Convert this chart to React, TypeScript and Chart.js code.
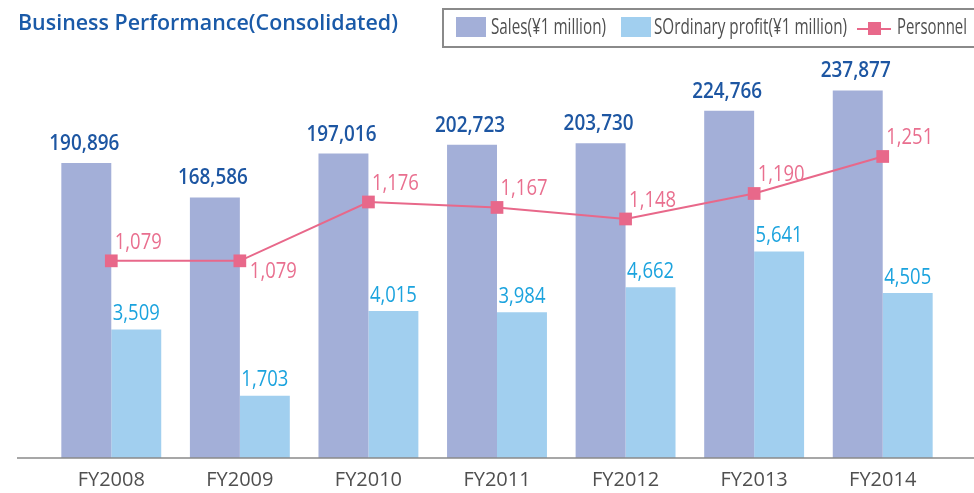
import React, { useEffect, useRef } from 'react';
import { Chart, registerables } from 'chart.js';

Chart.register(...registerables);

// ---- data ----
const categories = ['FY2008', 'FY2009', 'FY2010', 'FY2011', 'FY2012', 'FY2013', 'FY2014'];
const sales = [190896, 168586, 197016, 202723, 203730, 224766, 237877];
const profit = [3509, 1703, 4015, 3984, 4662, 5641, 4505];
const personnel = [1079, 1079, 1176, 1167, 1148, 1190, 1251];

const seriesNames = ['Sales(¥1 million)', 'SOrdinary profit(¥1 million)', 'Personnel'];
const chartTitle = 'Business Performance(Consolidated)';

// label placement for the personnel line (styling, not data)
const personnelLabelBelow = [false, true, false, false, false, false, false];

// ---- styles ----
const FONT = '"Open Sans", "Noto Sans", sans-serif';
const SALES_COLOR = '#A3AFD8';
const PROFIT_COLOR = '#A1CFEF';
const PERSONNEL_COLOR = '#E8688A';
const SALES_LABEL_COLOR = '#1D56A2';
const PROFIT_LABEL_COLOR = '#1BA3DE';
const PERSONNEL_LABEL_COLOR = '#E96F8F';
const TITLE_COLOR = '#1A5AA8';
const TEXT_GRAY = '#4f4f4f';
const AXIS_COLOR = '#8a8a8a';

const fmt = (v: number) => v.toLocaleString('en-US');

function textWidth(text: string, font: string): number {
  const c = document.createElement('canvas').getContext('2d');
  if (!c) return 1;
  c.font = font;
  return c.measureText(text).width;
}

function drawScaled(ctx: CanvasRenderingContext2D, text: string, x: number, y: number, align: CanvasTextAlign, sx: number) {
  ctx.save();
  ctx.translate(x, y);
  ctx.scale(sx, 1);
  ctx.textAlign = align;
  ctx.textBaseline = 'alphabetic';
  ctx.fillText(text, 0, 0);
  ctx.restore();
}

const labelPlugin = {
  id: 'valueLabels',
  afterDatasetsDraw(chart: any) {
    const ctx: CanvasRenderingContext2D = chart.ctx;
    const area = chart.chartArea;
    ctx.save();
    // baseline axis line
    ctx.strokeStyle = AXIS_COLOR;
    ctx.lineWidth = 1.5;
    ctx.beginPath();
    ctx.moveTo(area.left - 30, area.bottom);
    ctx.lineTo(chart.width, area.bottom);
    ctx.stroke();

    // sales labels
    const bigFont = `600 22px ${FONT}`;
    ctx.font = bigFont;
    const bigScale = 70 / ctx.measureText('190,896').width;
    ctx.fillStyle = SALES_LABEL_COLOR;
    chart.getDatasetMeta(0).data.forEach((bar: any, i: number) => {
      drawScaled(ctx, fmt(sales[i]), bar.x - 2, bar.y - 13, 'center', bigScale);
    });

    // profit labels
    const smallFont = `400 21px ${FONT}`;
    ctx.font = smallFont;
    const smallScale = 47 / ctx.measureText('1,079').width;
    ctx.fillStyle = PROFIT_LABEL_COLOR;
    chart.getDatasetMeta(1).data.forEach((bar: any, i: number) => {
      drawScaled(ctx, fmt(profit[i]), bar.x, bar.y - 9.5, 'center', smallScale);
    });

    // personnel labels
    ctx.fillStyle = PERSONNEL_LABEL_COLOR;
    chart.getDatasetMeta(2).data.forEach((pt: any, i: number) => {
      if (personnelLabelBelow[i]) {
        drawScaled(ctx, fmt(personnel[i]), pt.x + 10, pt.y + 17, 'left', smallScale);
      } else {
        drawScaled(ctx, fmt(personnel[i]), pt.x + 3.5, pt.y - 12, 'left', smallScale);
      }
    });
    ctx.restore();
  },
};

function ScaledText(props: { text: string; left: number; baseline: number; width: number; size: number; weight: number; color: string }) {
  const { text, left, baseline, width, size, weight, color } = props;
  const natural = textWidth(text, `${weight} ${size}px ${FONT}`);
  const sx = width / natural;
  return (
    <div
      style={{
        position: 'absolute',
        left,
        top: baseline - 0.388 * size,
        fontFamily: FONT,
        fontSize: size,
        fontWeight: weight,
        lineHeight: 0,
        whiteSpace: 'nowrap',
        color,
        transform: `scaleX(${sx})`,
        transformOrigin: '0 0',
      }}
    >
      {text}
    </div>
  );
}

export default function App() {
  const canvasRef = useRef<HTMLCanvasElement | null>(null);

  useEffect(() => {
    if (!canvasRef.current) return;
    const chart = new Chart(canvasRef.current, {
      type: 'bar',
      data: {
        labels: categories,
        datasets: [
          {
            type: 'bar',
            label: seriesNames[0],
            data: sales,
            backgroundColor: SALES_COLOR,
            borderWidth: 0,
            yAxisID: 'ySales',
            categoryPercentage: 0.777,
            barPercentage: 1.0,
            order: 1,
          },
          {
            type: 'bar',
            label: seriesNames[1],
            data: profit,
            backgroundColor: PROFIT_COLOR,
            borderWidth: 0,
            yAxisID: 'yProfit',
            categoryPercentage: 0.777,
            barPercentage: 1.0,
            order: 1,
          },
          {
            type: 'line',
            label: seriesNames[2],
            data: personnel,
            borderColor: PERSONNEL_COLOR,
            backgroundColor: PERSONNEL_COLOR,
            borderWidth: 2,
            pointStyle: 'rect',
            pointRadius: 9,
            pointBorderWidth: 0,
            pointBackgroundColor: PERSONNEL_COLOR,
            tension: 0,
            yAxisID: 'yPers',
            order: 0,
          } as any,
        ],
      },
      options: {
        animation: false,
        responsive: false,
        devicePixelRatio: 1,
        events: [],
        layout: { padding: { top: 40, left: 47, right: 27, bottom: 0 } },
        plugins: {
          legend: { display: false },
          title: { display: false },
          tooltip: { enabled: false },
        },
        scales: {
          x: {
            grid: { display: false, drawTicks: false },
            border: { display: false },
            ticks: {
              color: TEXT_GRAY,
              font: { family: FONT, size: 20 },
              padding: 10.5,
              maxRotation: 0,
              autoSkip: false,
            },
            afterFit: (scale: any) => {
              scale.height = 35;
            },
          },
          ySales: { type: 'linear', display: false, min: 0, max: 270500 },
          yProfit: { type: 'linear', display: false, min: 0, max: 11420 },
          yPers: { type: 'linear', display: false, min: 754, max: 1443 },
        },
      } as any,
      plugins: [labelPlugin],
    });
    return () => chart.destroy();
  }, []);

  return (
    <div style={{ position: 'fixed', left: 0, top: 0, width: 974, height: 493, background: '#ffffff', overflow: 'hidden' }}>
      <canvas ref={canvasRef} width={974} height={493} style={{ position: 'absolute', left: 0, top: 0, width: 974, height: 493 }} />
      <ScaledText text={chartTitle} left={18.3} baseline={30} width={380} size={22} weight={600} color={TITLE_COLOR} />
      {/* legend box */}
      <div
        style={{
          position: 'absolute',
          left: 442,
          top: 8,
          width: 540,
          height: 36,
          border: `2px solid ${AXIS_COLOR}`,
          boxSizing: 'content-box',
        }}
      />
      <div style={{ position: 'absolute', left: 456, top: 17, width: 30, height: 20, background: SALES_COLOR }} />
      <ScaledText text={seriesNames[0]} left={490.5} baseline={34} width={115} size={21} weight={400} color={TEXT_GRAY} />
      <div style={{ position: 'absolute', left: 621, top: 17, width: 30, height: 20, background: PROFIT_COLOR }} />
      <ScaledText text={seriesNames[1]} left={654} baseline={34} width={193} size={21} weight={400} color={TEXT_GRAY} />
      <div style={{ position: 'absolute', left: 857, top: 27.5, width: 34, height: 2, background: PERSONNEL_COLOR }} />
      <div style={{ position: 'absolute', left: 868, top: 22, width: 13, height: 13, background: PERSONNEL_COLOR }} />
      <ScaledText text={seriesNames[2]} left={897} baseline={34} width={70} size={21} weight={400} color={TEXT_GRAY} />
    </div>
  );
}
